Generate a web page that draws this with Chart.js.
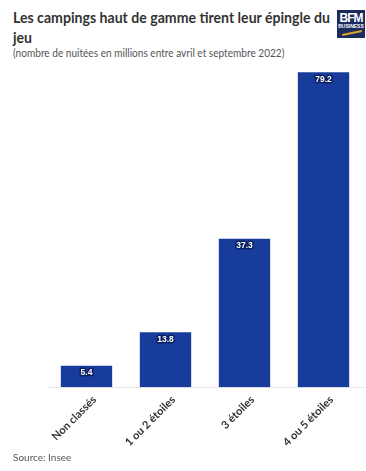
<!DOCTYPE html>
<html><head><meta charset="utf-8">
<script src="https://cdn.jsdelivr.net/npm/chart.js@4/dist/chart.umd.min.js"></script>
<style>
html,body{margin:0;padding:0;background:#fff;width:366px;height:471px;overflow:hidden;font-family:"Source Sans Pro",Lato,"Open Sans",sans-serif;}
#title{position:absolute;left:13px;top:7px;white-space:nowrap;font-size:15.5px;font-weight:bold;color:#333;line-height:20px;transform:scaleX(0.91);transform-origin:0 0;}
#sub{position:absolute;left:13px;top:45px;white-space:nowrap;font-size:12px;color:#555;transform:scaleX(0.84);transform-origin:0 0;}
#src{position:absolute;left:13px;top:451px;font-size:10px;color:#555;}
#logo{position:absolute;left:337px;top:10px;width:28px;height:28px;background:#1d2a5c;color:#fff;font-family:"Liberation Sans",sans-serif;font-weight:bold;text-align:center;line-height:1;overflow:hidden;}
#logo .b{font-size:12px;letter-spacing:-1px;margin-top:2px;}
#logo .s{font-size:5px;}
#logo .l{height:2px;background:#d9a531;margin:3px 3px 0 5px;transform:rotate(-12deg);}
#wrap{position:absolute;left:0;top:69px;width:366px;height:386px;}
</style></head><body>
<div id="title">Les campings haut de gamme tirent leur épingle du<br>jeu</div>
<div id="sub">(nombre de nuitées en millions entre avril et septembre 2022)</div>
<div id="logo"><div class="b">BFM</div><div class="s">BUSINESS</div><div class="l"></div></div>
<div id="wrap"><canvas id="c"></canvas></div>
<div id="src">Source: Insee</div>
<script>
const categories = ["Non classés", "1 ou 2 étoiles", "3 étoiles", "4 ou 5 étoiles"];
const values = [5.4, 13.8, 37.3, 79.2];
const valueLabels = ["5.4", "13.8", "37.3", "79.2"];

const labelPlugin = {
  id: 'vlabels',
  afterDatasetsDraw(chart) {
    const ctx = chart.ctx;
    const meta = chart.getDatasetMeta(0);
    ctx.save();
    ctx.font = 'bold 8.5px "Liberation Sans", sans-serif';
    ctx.textAlign = 'center';
    ctx.textBaseline = 'middle';
    ctx.lineJoin = 'round';
    meta.data.forEach((bar, i) => {
      const y = bar.y + 7;
      ctx.lineWidth = 3;
      ctx.strokeStyle = '#0b1f5e';
      ctx.strokeText(valueLabels[i], bar.x, y);
      ctx.fillStyle = '#fff';
      ctx.fillText(valueLabels[i], bar.x, y);
    });
    ctx.restore();
  }
};

new Chart(document.getElementById('c'), {
  type: 'bar',
  data: {
    labels: categories,
    datasets: [{
      data: values,
      backgroundColor: '#183c9c',
      barPercentage: 0.65,
      categoryPercentage: 1
    }]
  },
  options: {
    responsive: true,
    maintainAspectRatio: false,
    animation: false,
    layout: {padding: {left: 47, right: 3, top: 0, bottom: 0}},
    plugins: {legend: {display: false}, tooltip: {enabled: false}},
    scales: {
      x: {
        grid: {display: false, drawTicks: false},
        border: {display: true, color: '#e6e6e6'},
        ticks: {
          minRotation: 45, maxRotation: 45, padding: 6, labelOffset: 8,
          color: '#333',
          font: {family: 'Lato, "Open Sans", sans-serif', size: 11, weight: 'bold'}
        }
      },
      y: {
        display: false,
        min: 0, max: 80
      }
    }
  },
  plugins: [labelPlugin]
});
</script>
</body></html>
